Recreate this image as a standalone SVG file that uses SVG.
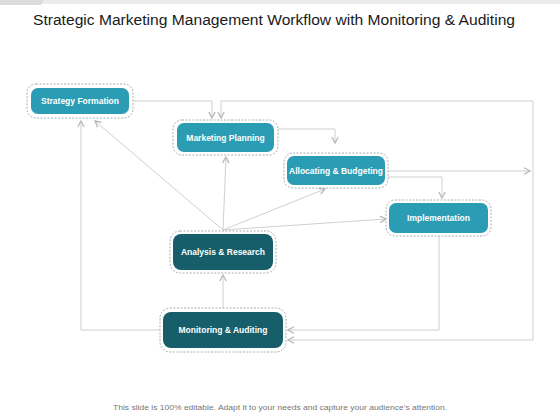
<svg xmlns="http://www.w3.org/2000/svg" width="560" height="420" viewBox="0 0 560 420">
<defs>
<marker id="arr" viewBox="0 0 8 8" refX="7" refY="4" markerWidth="8" markerHeight="8" markerUnits="userSpaceOnUse" orient="auto">
<path d="M1,0.8 L7,4 L1,7.2" fill="none" stroke="#b8b8b8" stroke-width="1.3"/>
</marker>
</defs>
<style>
.t{font-family:"Liberation Sans",Arial,sans-serif}
.lbl{font-family:"Liberation Sans",Arial,sans-serif;font-weight:bold;font-size:8.5px;fill:#ffffff;text-anchor:middle;dominant-baseline:central}
.outer{fill:#ffffff;stroke:#8a9ea4;stroke-width:0.8;stroke-dasharray:2 1.5}
.lt{fill:#2a9db4}
.dk{fill:#165e69}
.c{fill:none;stroke:#cfcfcf;stroke-width:1}
.ca{fill:none;stroke:#cfcfcf;stroke-width:1;marker-end:url(#arr)}
</style>
<rect width="560" height="420" fill="#ffffff"/>
<rect x="0" y="0" width="560" height="4" fill="#ececec"/>
<polygon points="0,0 44,0 41,5 0,5" fill="#dcdcdc"/>
<text class="t" x="274" y="25" font-size="15.5" fill="#1a1a1a" text-anchor="middle" textLength="482" lengthAdjust="spacingAndGlyphs">Strategic Marketing Management Workflow with Monitoring &amp; Auditing</text>

<g id="connectors">
<path class="ca" d="M133,101 H212 V118"/>
<path class="c" d="M221,101 H533 V340"/>
<path class="ca" d="M221,101 V118"/>
<path class="ca" d="M533,340 H288"/>
<path class="ca" d="M388,171 H530"/>
<path class="ca" d="M278,129 H335 V143"/>
<path class="ca" d="M388,177 H442 V198"/>
<path class="ca" d="M439,236 V330 H288"/>
<path class="ca" d="M160,330 H81 V121"/>
<path class="ca" d="M223,308 V275"/>
<path class="ca" d="M223,230 L95,121"/>
<path class="ca" d="M223,230 L226,157"/>
<path class="ca" d="M223,230 L325,189"/>
<path class="ca" d="M223,230 L386,219"/>
</g>

<g id="strategy-formation">
<rect class="outer" x="27" y="84" width="106" height="34" rx="9"/>
<rect class="lt" x="31" y="88" width="98" height="26" rx="7"/>
<text class="lbl" x="80" y="101">Strategy Formation</text>
</g>
<g id="marketing-planning">
<rect class="outer" x="173" y="120" width="105" height="35" rx="9"/>
<rect class="lt" x="177" y="123" width="97" height="29" rx="7"/>
<text class="lbl" x="225.5" y="138">Marketing Planning</text>
</g>
<g id="allocating-budgeting">
<rect class="outer" x="284" y="153" width="104" height="35" rx="9"/>
<rect class="lt" x="287" y="156" width="98" height="29" rx="7"/>
<text class="lbl" x="336" y="170.5">Allocating &amp; Budgeting</text>
</g>
<g id="implementation">
<rect class="outer" x="386" y="200" width="105" height="36" rx="9"/>
<rect class="lt" x="389" y="203" width="99" height="30" rx="7"/>
<text class="lbl" x="438.5" y="218">Implementation</text>
</g>
<g id="analysis-research">
<rect class="outer" x="170" y="231" width="106" height="42" rx="10"/>
<rect class="dk" x="173" y="234" width="100" height="36" rx="8"/>
<text class="lbl" x="223" y="252">Analysis &amp; Research</text>
</g>
<g id="monitoring-auditing">
<rect class="outer" x="160" y="308" width="126" height="44" rx="10"/>
<rect class="dk" x="163" y="312" width="120" height="36" rx="8"/>
<text class="lbl" x="223" y="330">Monitoring &amp; Auditing</text>
</g>

<text class="t" x="280" y="410" font-size="8" fill="#777777" text-anchor="middle" textLength="334" lengthAdjust="spacingAndGlyphs">This slide is 100% editable. Adapt it to your needs and capture your audience’s attention.</text>
</svg>
